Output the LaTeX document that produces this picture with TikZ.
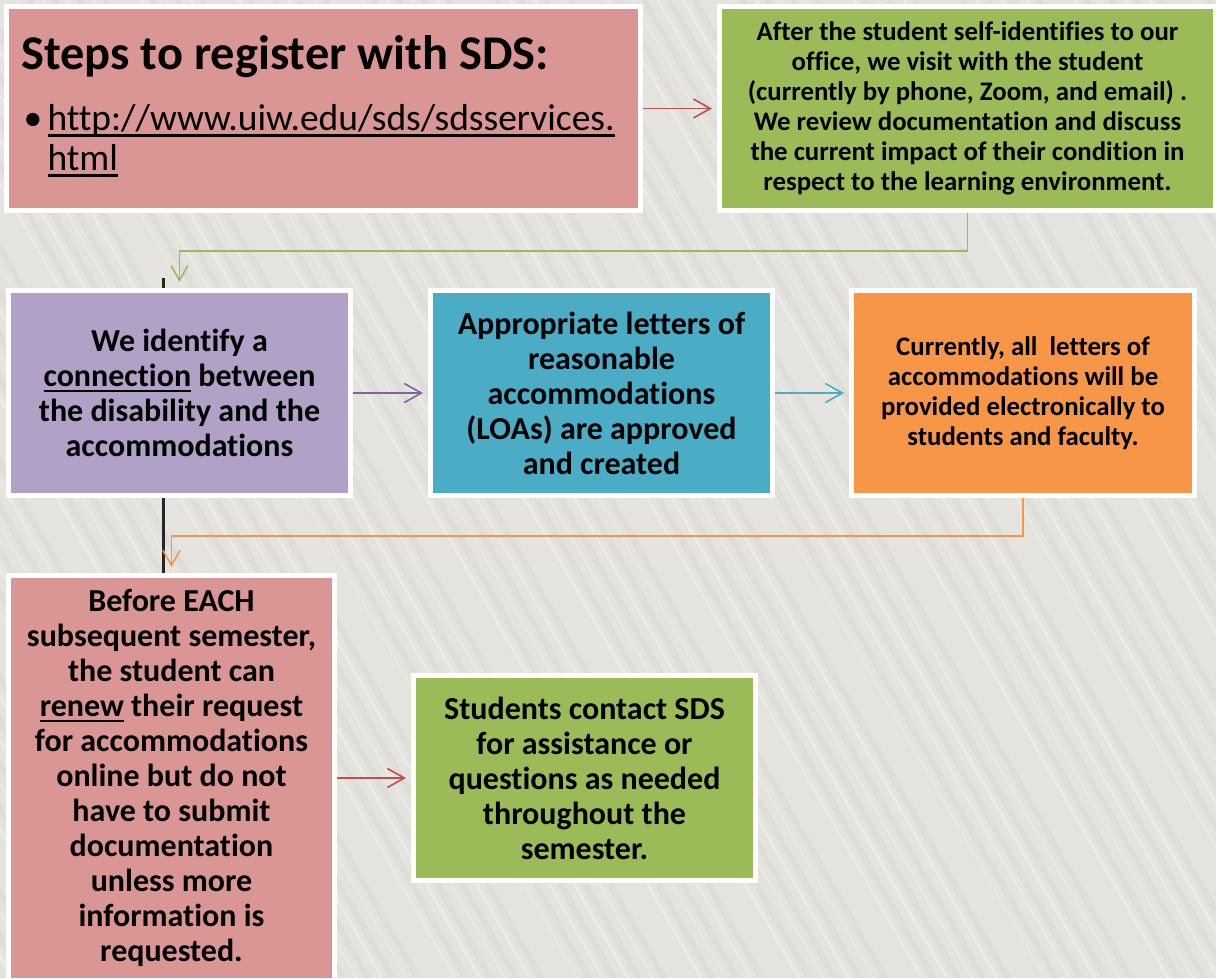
\documentclass[tikz,border=0pt]{standalone}
\usepackage{fontspec}
\setmainfont{Carlito}[Ligatures=NoCommon]
\usetikzlibrary{arrows.meta}
\definecolor{bgc}{HTML}{E4E3DE}
\definecolor{pinkc}{HTML}{D99694}
\definecolor{greenc}{HTML}{9BBB59}
\definecolor{purplec}{HTML}{B2A1C7}
\definecolor{bluec}{HTML}{4BACC6}
\definecolor{orangec}{HTML}{F79646}
\definecolor{redln}{HTML}{C0504D}
\definecolor{purpleln}{HTML}{8064A2}
\newcommand\ulx[1]{\leavevmode\setbox0\hbox{#1}\rlap{\rule[-0.17em]{\wd0}{0.075em}}\box0\relax}
\newcommand\mainsz{\bfseries\fontsize{32}{35}\selectfont}
\newcommand\smallsz{\bfseries\fontsize{26.8}{30}\selectfont}
\tikzset{
  box/.style={draw=white, line width=5pt, inner sep=0pt, align=center, font=\mainsz},
  conn/.style={line width=1.6pt, -{Straight Barb[length=17pt, width=19pt]}, shorten >=5pt},
  elbow/.style={line width=1.6pt, -{Straight Barb[length=15pt, width=17pt]}, shorten >=6pt}
}
\begin{document}
\begin{tikzpicture}[x=1pt,y=-1pt]
\fill[bgc] (0,0) rectangle (1216,978);
\useasboundingbox (0,0) rectangle (1216,978);
% background stripes
\begin{scope}
\clip (0,0) rectangle (1216,978);
\foreach \i in {0,...,60} {
  \pgfmathsetmacro\xx{-620+\i*31+mod(\i*17,23)}
  \pgfmathsetmacro\ww{1+mod(\i*7,5)*0.5}
  \draw[white, opacity=0.3, line width=\ww pt] (\xx,0) -- ++(560,978);
  \draw[black, opacity=0.025, line width=6pt] (\xx+11,0) -- ++(560,978);
}
\end{scope}
% black line behind
\coordinate (kt) at (163,278);
\coordinate (kb) at (163,573);
\draw[line width=3pt, black!85] (kt) -- (kb);
% boxes
\node[box, fill=pinkc, minimum width=634pt, minimum height=204pt] (b1) at (323.5,108.5)
 {\parbox{604pt}{\raggedright
  {\bfseries\fontsize{48.4}{52}\selectfont Steps to register with SDS:\par}
  \vspace{21pt}
  {\mdseries\fontsize{37.5}{40}\selectfont\makebox[26pt][l]{\hspace{2pt}\textbullet}\ulx{http://www.uiw.edu/sds/sdsservices.}\\
  \hspace*{26pt}\ulx{html}\par}\vspace{5pt}}};
\node[box, fill=greenc, minimum width=496pt, minimum height=204pt, font=\smallsz] (b2) at (967.5,108.5)
 {After the student self-identifies to our\\
  office, we visit with the student\\
  (currently by phone, Zoom, and email) .\\
  We review documentation and discuss\\
  the current impact of their condition in\\
  respect to the learning environment.};
\node[box, fill=purplec, minimum width=342pt, minimum height=205pt] (b3) at (179.5,393)
 {We identify a\\ \ulx{connection} between\\ the disability and the\\ accommodations};
\node[box, fill=bluec, minimum width=342pt, minimum height=205pt] (b4) at (601.5,393)
 {Appropriate letters of\\ reasonable\\ accommodations\\ (LOAs) are approved\\ and created};
\node[box, fill=orangec, minimum width=343pt, minimum height=205pt, font=\smallsz] (b5) at (1023,393)
 {Currently, all\ \ letters of\\ accommodations will be\\ provided electronically to\\ students and faculty.};
\node[box, fill=pinkc, minimum width=326pt, minimum height=405pt] (b6) at (171.5,778)
 {Before EACH\\ subsequent semester,\\ the student can\\ \ulx{renew} their request\\ for accommodations\\ online but do not\\ have to submit\\ documentation\\ unless more\\ information is\\ requested.};
\node[box, fill=greenc, minimum width=342pt, minimum height=205pt] (b7) at (584.5,778)
 {Students contact SDS\\ for assistance or\\ questions as needed\\ throughout the\\ semester.};
% connectors
\draw[conn, redln] (b1.east) -- (b2.west);
\draw[conn, purpleln] (b3.east) -- (b4.west);
\draw[conn, bluec] (b4.east) -- (b5.west);
\draw[conn, redln] (b6.east |- b7.west) -- (b7.west);
\draw[elbow, greenc] (b2.south) -- (b2.south |- 0,251) -| (b3.north);
\draw[elbow, orangec] (b5.south) -- (b5.south |- 0,536) -| (b6.north);
\end{tikzpicture}
\end{document}
